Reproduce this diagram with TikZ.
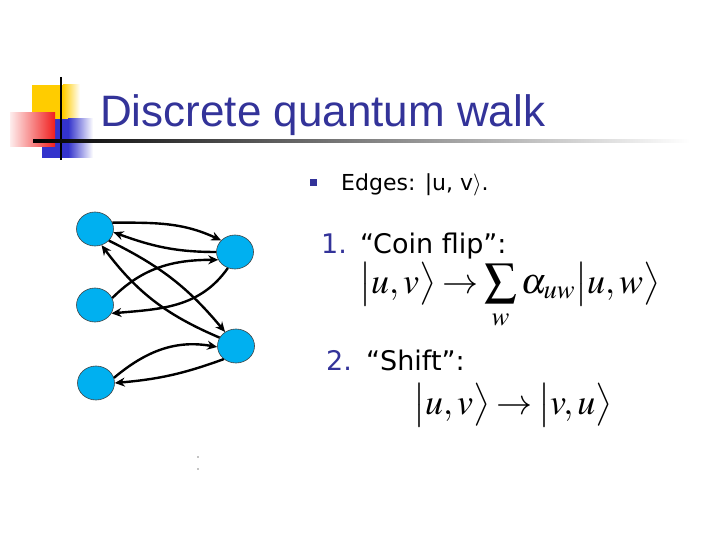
\documentclass[tikz,border=0pt]{standalone}
\usepackage{mathptmx}
\usepackage{fontspec}
\setmainfont{DejaVu Sans}
\newfontfamily\titlefont{Liberation Sans}
\usetikzlibrary{shapes.geometric, arrows.meta, positioning}
\definecolor{slidenavy}{RGB}{51, 51, 153}
\definecolor{vertexcyan}{RGB}{0, 176, 240}
\definecolor{logoyellow}{RGB}{255, 204, 0}
\definecolor{logoblue}{RGB}{51, 51, 204}
\definecolor{logored}{RGB}{240, 30, 30}
\newcommand{\bigsum}{\mathop{\vcenter{\hbox{\fontsize{46}{56}\selectfont$\sum$}}}\limits}
\tikzset{
    vertex/.style={
        ellipse, minimum width=37pt, minimum height=34pt, inner sep=0pt,
        draw=black!75, fill=vertexcyan, line width=0.6pt
    },
    walk/.style={-{Stealth[length=10pt, width=9pt]}, line width=2.4pt, color=black},
    heading/.style={font=\titlefont\fontsize{44}{50}\selectfont, text=slidenavy, inner sep=0pt, anchor=base west},
    bodytext/.style={font=\fontsize{27}{32}\selectfont, inner sep=0pt, anchor=base west},
    edgetext/.style={bodytext, font=\fontsize{22}{26}\selectfont},
    numtext/.style={bodytext, text=slidenavy},
    formula/.style={font=\fontsize{36}{40}\selectfont, inner sep=0pt, anchor=base west},
    bulletbox/.style={rectangle, fill=slidenavy, minimum size=7pt, inner sep=0pt},
}

\begin{document}
\begin{tikzpicture}[x=1pt, y=1pt]
    \useasboundingbox (0,0) rectangle (720,-540);

    % logo
    \fill[logoyellow] (32,-85) rectangle (63,-120);
    \shade[left color=logoyellow, right color=white] (63,-85) rectangle (80,-120);
    \fill[logoblue] (42,-119) rectangle (68,-158);
    \shade[left color=logoblue, right color=white] (68,-119) rectangle (93,-158);
    \shade[left color=logored!8, right color=logored] (10,-113) rectangle (55,-147);
    \draw[line width=2pt] (61,-77) -- (61,-160);
    \shade[left color=black, right color=white] (33,-139.5) rectangle (690,-142.5);

    \node[heading] (title) at (100,-127) {Discrete quantum walk};

    % graph
    \node[vertex] (a1) at (95,-229) {};
    \node[vertex] (a2) at (95,-305) {};
    \node[vertex] (a3) at (96,-383) {};
    \node[vertex] (b1) at (235,-252) {};
    \node[vertex] (b2) at (236,-346) {};

    \draw[walk] (a1.20) to[out=0, in=155] (b1.140);
    \draw[walk] (b1.180) to[out=180, in=-20] (a1.-10);
    \draw[walk] (a2.22) to[out=45, in=180] (b1.205);
    \draw[walk] (b1.246) to[out=235, in=5] (a2.-27);
    \draw[walk] (a1.-40) to[bend left=12] (b2.128);
    \draw[walk] (b2.153) to[bend left=15] (a1.-68);
    \draw[walk] (a3.16) to[out=40, in=170] (b2.183);
    \draw[walk] (b2.227) to[out=200, in=5] (a3.0);

    \fill (198,-457) circle (0.7);
    \fill (198,-469) circle (0.7);

    % text
    \node[bulletbox] (bullet) at (313,-183) {};
    \node[edgetext] (edges) at (341,-191) {Edges: |u, v$\rangle$.};

    \node[numtext] (one) at (321,-254) {1.};
    \node[bodytext] (coin) at (360,-254) {“Coin flip”:};
    \node[formula] (coinmap) at (359,-293)
        {$\thickmuskip=3mu \bigl|u,v\bigr\rangle \rightarrow \bigsum_{w} \alpha_{uw}\bigl|u,w\bigr\rangle$};

    \node[numtext] (two) at (326,-370) {2.};
    \node[bodytext] (shift) at (366,-370) {“Shift”:};
    \node[formula] (shiftmap) at (413,-414)
        {$\thickmuskip=3mu \bigl|u,v\bigr\rangle \rightarrow \bigl|v,u\bigr\rangle$};
\end{tikzpicture}
\end{document}
